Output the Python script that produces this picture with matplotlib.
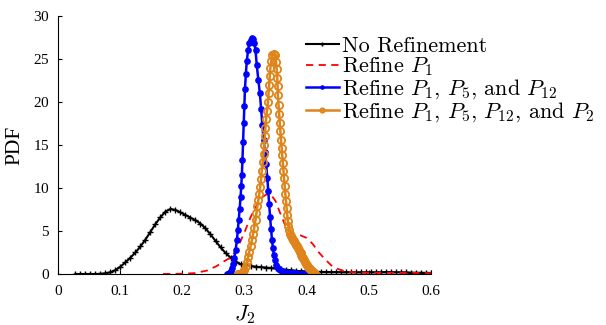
import numpy as np
import matplotlib
matplotlib.use("Agg")
import matplotlib.pyplot as plt

plt.rcParams['mathtext.fontset'] = 'cm'
plt.rcParams['axes.formatter.use_mathtext'] = True

# ---- data ----
labels = ["No Refinement", r"Refine $P_1$", r"Refine $P_1$, $P_5$, and $P_{12}$",
          r"Refine $P_1$, $P_5$, $P_{12}$, and $P_2$"]

x_none = np.linspace(0.028, 0.6, 72)
y_none = [0, 0, 0, 0, 0, 0.02, 0.08, 0.2, 0.45, 0.85,
          1.35, 1.9, 2.5, 3.2, 4.0, 4.9, 5.8, 6.6, 7.25, 7.55,
          7.45, 7.15, 6.85, 6.55, 6.25, 5.85, 5.3, 4.6, 3.85, 3.1,
          2.45, 1.9, 1.45, 1.15, 1.0, 0.92, 0.86, 0.8, 0.75, 0.7,
          0.64, 0.57, 0.5, 0.44, 0.38, 0.33, 0.3, 0.27, 0.25, 0.24,
          0.23, 0.22, 0.22, 0.21, 0.21, 0.2, 0.2, 0.2, 0.2, 0.2,
          0.2, 0.2, 0.22, 0.22, 0.2, 0.2, 0.18, 0.16, 0.15, 0.14,
          0.13, 0.12]

x_p1 = [0.169, 0.20, 0.22, 0.24, 0.255, 0.268, 0.28, 0.29, 0.30, 0.31, 0.32, 0.33,
        0.337, 0.344, 0.35, 0.357, 0.365, 0.372, 0.38, 0.39, 0.40, 0.41, 0.42, 0.43,
        0.44, 0.45, 0.46, 0.475, 0.5, 0.55, 0.6]
y_p1 = [0.0, 0.03, 0.1, 0.4, 0.9, 1.5, 2.0, 3.2, 4.8, 6.6, 8.0, 9.0,
        9.3, 9.1, 8.5, 7.2, 5.8, 5.0, 4.6, 4.5, 4.2, 3.5, 2.5, 1.7,
        1.0, 0.6, 0.35, 0.2, 0.15, 0.15, 0.1]

x_p15 = [0.272, 0.274, 0.276, 0.278, 0.280, 0.282, 0.284, 0.286, 0.288, 0.2895,
         0.291, 0.2925, 0.294, 0.295, 0.296, 0.297, 0.298, 0.299, 0.300, 0.301,
         0.3025, 0.304, 0.306, 0.308, 0.310, 0.312, 0.314, 0.316, 0.318, 0.320,
         0.3225, 0.325, 0.327, 0.329, 0.331, 0.333, 0.335, 0.337, 0.3385, 0.340,
         0.3415, 0.343, 0.3445, 0.346, 0.3475, 0.349, 0.351, 0.353, 0.355, 0.3575,
         0.360, 0.3625, 0.365, 0.3675, 0.370, 0.3725, 0.375, 0.3775, 0.380, 0.3825,
         0.385, 0.3875, 0.390, 0.3925, 0.395, 0.3975, 0.400, 0.4025, 0.405, 0.4075,
         0.410]
y_p15 = [0.0, 0.05, 0.15, 0.35, 0.7, 1.2, 1.9, 2.8, 3.9, 5.1,
         6.3, 7.6, 9.0, 10.2, 11.5, 13.3, 15.4, 17.5, 19.5, 21.5,
         23.3, 24.8, 26.0, 26.8, 27.2, 27.4, 27.3, 26.9, 26.0, 24.3,
         22.6, 21.0, 19.2, 17.3, 15.6, 14.2, 12.8, 11.2, 9.6, 8.1,
         6.6, 5.2, 4.0, 3.0, 2.2, 1.6, 1.1, 0.8, 0.6, 0.45,
         0.35, 0.28, 0.22, 0.18, 0.15, 0.12, 0.1, 0.08, 0.07, 0.06,
         0.05, 0.04, 0.04, 0.03, 0.03, 0.02, 0.02, 0.01, 0.01, 0.0,
         0.0]

x_p152 = [0.290, 0.292, 0.294, 0.296, 0.298, 0.300, 0.302, 0.304, 0.306, 0.308,
          0.310, 0.312, 0.314, 0.316, 0.318, 0.3195, 0.321, 0.3225, 0.324, 0.3255,
          0.327, 0.328, 0.3295, 0.331, 0.332, 0.333, 0.334, 0.335, 0.3365, 0.338,
          0.339, 0.340, 0.341, 0.342, 0.3435, 0.345, 0.347, 0.349, 0.351, 0.352,
          0.353, 0.3535, 0.354, 0.355, 0.356, 0.357, 0.358, 0.359, 0.360, 0.361,
          0.362, 0.363, 0.364, 0.365, 0.366, 0.367, 0.368, 0.369, 0.370, 0.371,
          0.3725, 0.374, 0.3755, 0.377, 0.3785, 0.380, 0.3815, 0.383, 0.3845, 0.386,
          0.3875, 0.389, 0.3905, 0.392, 0.3935, 0.395, 0.3965, 0.398, 0.3995, 0.401,
          0.4025, 0.404, 0.4055, 0.407, 0.4085, 0.410, 0.4115, 0.413, 0.4145]
y_p152 = [0.0, 0.02, 0.05, 0.12, 0.25, 0.5, 0.9, 1.4, 2.0, 2.6,
          3.2, 3.9, 4.6, 5.4, 6.3, 7.1, 7.9, 8.6, 9.3, 10.1,
          11.0, 12.0, 13.0, 14.0, 15.0, 16.0, 17.0, 18.0, 19.0, 20.0,
          21.0, 22.0, 23.0, 24.0, 24.8, 25.4, 25.6, 25.4, 24.7, 23.8,
          22.8, 21.8, 20.8, 19.7, 18.6, 17.6, 16.6, 15.6, 14.7, 13.8,
          12.9, 12.0, 11.1, 10.2, 9.3, 8.5, 7.7, 6.9, 6.2, 5.6,
          5.1, 4.7, 4.4, 4.2, 4.0, 3.8, 3.6, 3.4, 3.2, 3.0,
          2.8, 2.6, 2.4, 2.2, 2.0, 1.8, 1.6, 1.4, 1.2, 1.0,
          0.85, 0.7, 0.55, 0.42, 0.3, 0.2, 0.12, 0.05, 0.0]

xticks = [0, 0.1, 0.2, 0.3, 0.4, 0.5, 0.6]
xticklabels = ["0", "0.1", "0.2", "0.3", "0.4", "0.5", "0.6"]
yticks = [0, 5, 10, 15, 20, 25, 30]

orange = '#DF841A'

fig = plt.figure(figsize=(6.06, 3.25), dpi=100)
ax = fig.add_axes([0.0957, 0.157, 0.615, 0.794])

l1, = ax.plot(x_none, y_none, color='black', lw=1.5, marker='+', ms=4, mew=1.0)
l2, = ax.plot(x_p1, y_p1, color='red', lw=1.3, ls=(0, (4, 3)))
l3, = ax.plot(x_p15, y_p15, color='blue', lw=1.8, marker='o', ms=3.8, mec='blue', mfc='blue')
l4, = ax.plot(x_p152, y_p152, color=orange, lw=1.8, marker='o', ms=5.2, mfc='none',
              mec=orange, mew=1.3)

ax.set_xlim(0, 0.6)
ax.set_ylim(0, 30)
ax.set_xticks(xticks)
ax.set_xticklabels(xticklabels)
ax.set_yticks(yticks)
for lab in ax.get_xticklabels() + ax.get_yticklabels():
    lab.set_family('Liberation Serif')
    lab.set_fontsize(11)
ax.tick_params(direction='in', length=3, width=0.8)
ax.tick_params(axis='x', pad=8)
ax.tick_params(axis='y', pad=6)
ax.spines['top'].set_visible(False)
ax.spines['right'].set_visible(False)

ax.set_xlabel(r'$J_2$', fontsize=16, labelpad=3.5)
ax.set_ylabel('PDF', fontsize=15.5, family='Liberation Serif', labelpad=6)

leg = fig.legend([l1, l2, l3, l4], labels, loc='upper left', bbox_to_anchor=(0.49, 0.915),
                 frameon=False, handlelength=1.5, handletextpad=0.15,
                 labelspacing=-0.03, borderaxespad=0, prop={'family': 'cmr10', 'size': 15.9},
                 markerscale=0.6)

fig.savefig('out.png', dpi=100)
